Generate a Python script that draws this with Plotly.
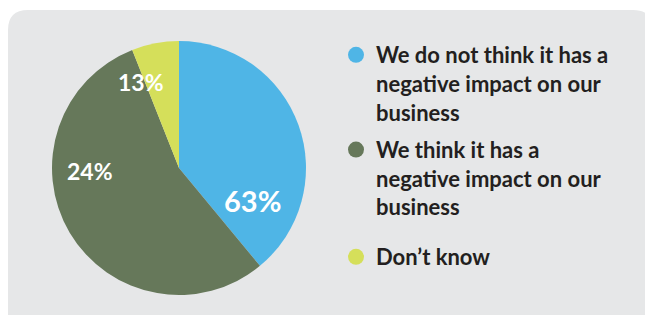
import plotly.graph_objects as go

W, H = 653, 315
OFF = 8  # page body margin offset

# Data
categories = [
    "We do not think it has a<br>negative impact on our<br>business",
    "We think it has a<br>negative impact on our<br>business",
    "Don’t know",
]
slice_shares = [39, 55, 6]          # slice sizes as drawn in the picture
pct_labels = ["63%", "24%", "13%"]  # printed labels
colors = ["#4FB5E6", "#66785A", "#D5DF5A"]

FONT = "Lato"

def px(x):
    return (x - OFF) / W

def py(y):
    return 1 - (y - OFF) / H

fig = go.Figure()

fig.add_trace(go.Pie(
    values=slice_shares,
    labels=categories,
    marker=dict(colors=colors, line=dict(width=0)),
    sort=False,
    direction="clockwise",
    rotation=0,
    textinfo="none",
    hoverinfo="label+percent",
    showlegend=False,
    domain=dict(x=[px(52), px(306)], y=[py(295), py(41)]),
))

# legend entries (circle markers)
for i, (name, c) in enumerate(zip(categories, colors)):
    fig.add_trace(go.Scatter(
        x=[None], y=[None], mode="markers", name=name,
        marker=dict(color=c, size=20, symbol="circle"),
        legendgroup=f"g{i}", showlegend=True,
        legend="legend2" if i == 2 else "legend",
    ))

# pie labels
label_pos = [(252, 200, 29), (90, 171, 23), (141, 82, 23)]
for t, (x, y, s) in zip(pct_labels, label_pos):
    fig.add_annotation(
        x=px(x), y=py(y), xref="paper", yref="paper", text=t, showarrow=False,
        font=dict(family=FONT, size=s, color="white", weight="bold"),
        xanchor="center", yanchor="middle",
    )

# rounded background panel
x0, x1, y0, y1, r = 8, 653, 10, 330, 20
path = (
    f"M {px(x0)} {py(y1)} L {px(x0)} {py(y0 + r)} "
    f"Q {px(x0)} {py(y0)} {px(x0 + r)} {py(y0)} "
    f"L {px(x1 - r)} {py(y0)} Q {px(x1)} {py(y0)} {px(x1)} {py(y0 + r)} "
    f"L {px(x1)} {py(y1)} Z"
)
fig.add_shape(type="path", path=path, xref="paper", yref="paper",
              fillcolor="#E6E7E8", line=dict(width=0), layer="below")

legend_font = dict(family=FONT, size=22, color="#231F20", weight="bold")
fig.update_layout(
    width=W, height=H,
    margin=dict(l=0, r=0, t=0, b=0),
    paper_bgcolor="white", plot_bgcolor="rgba(0,0,0,0)",
    xaxis=dict(visible=False), yaxis=dict(visible=False),
    legend=dict(
        x=px(336), y=py(34), xanchor="left", yanchor="top",
        bgcolor="rgba(0,0,0,0)", font=legend_font,
        tracegroupgap=6, valign="top", itemsizing="trace",
    ),
    legend2=dict(
        x=px(336), y=py(236), xanchor="left", yanchor="top",
        bgcolor="rgba(0,0,0,0)", font=legend_font,
        valign="top", itemsizing="trace",
    ),
)

fig.write_html("out.html")
